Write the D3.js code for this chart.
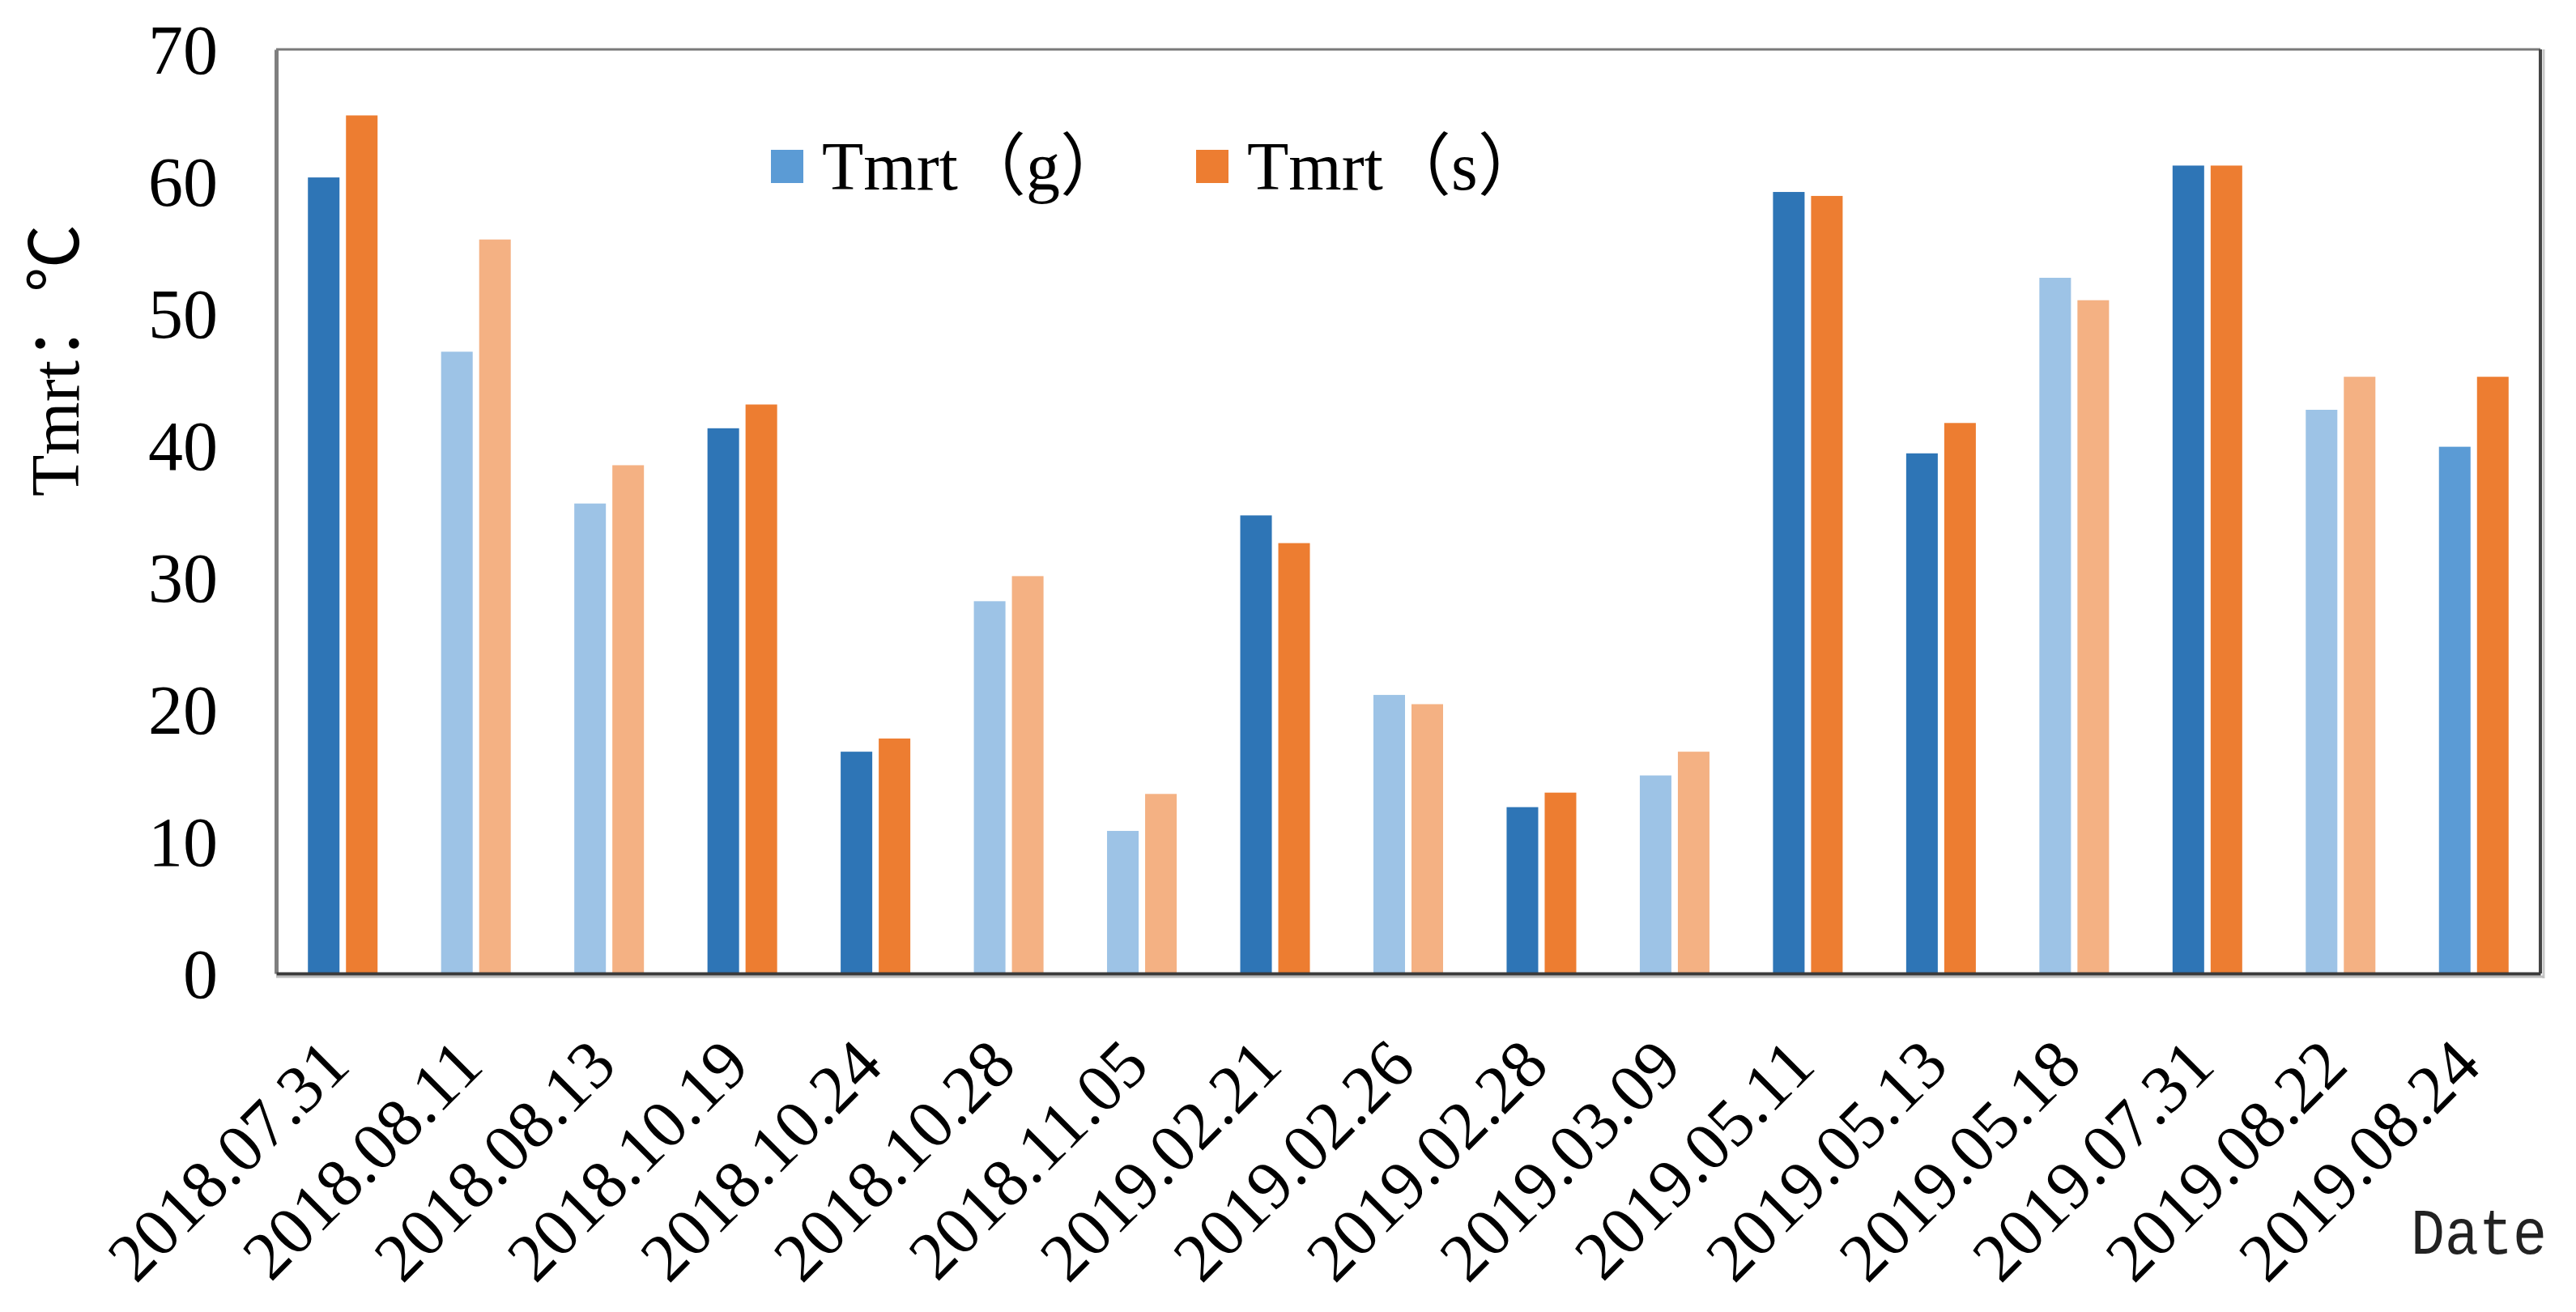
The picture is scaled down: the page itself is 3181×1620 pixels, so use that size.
<!DOCTYPE html>
<html>
<head>
<meta charset="utf-8">
<script src="https://cdn.jsdelivr.net/npm/d3@7"></script>
<style>
  html, body { margin: 0; padding: 0; background: #fff; }
  svg { display: block; }
</style>
</head>
<body>
<svg id="chart" width="3181" height="1620"></svg>
<script>
// ---- data ----
const categories = ["2018.07.31","2018.08.11","2018.08.13","2018.10.19","2018.10.24","2018.10.28","2018.11.05","2019.02.21","2019.02.26","2019.02.28","2019.03.09","2019.05.11","2019.05.13","2019.05.18","2019.07.31","2019.08.22","2019.08.24"];
const tmrtG = [60.3, 47.1, 35.6, 41.3, 16.8, 28.2, 10.8, 34.7, 21.1, 12.6, 15.0, 59.2, 39.4, 52.7, 61.2, 42.7, 39.9];
const tmrtS = [65.0, 55.6, 38.5, 43.1, 17.8, 30.1, 13.6, 32.6, 20.4, 13.7, 16.8, 58.9, 41.7, 51.0, 61.2, 45.2, 45.2];
const dayType = ["A","B","B","A","A","B","B","A","B","A","B","A","A","B","A","B","C"];
const seriesNames = ["Tmrt（g）", "Tmrt（s）"];
const yTicks = [0, 10, 20, 30, 40, 50, 60, 70];

// ---- layout ----
const svg = d3.select("#chart");
const mLeft = 341, mRight = 3137, mTop = 61, mBottom = 1202;

const x0 = d3.scaleBand().domain(categories).range([mLeft, mRight]).paddingInner(0.477).paddingOuter(0.2385);
const x1 = d3.scaleBand().domain(["g", "s"]).range([0, x0.bandwidth()]).paddingInner(0.17);
const y = d3.scaleLinear().domain([0, 70]).range([mBottom, mTop]);

const gColor = d3.scaleOrdinal().domain(["A","B","C"]).range(["#2E75B6", "#9DC3E6", "#5B9BD5"]);
const sColor = d3.scaleOrdinal().domain(["A","B","C"]).range(["#ED7D31", "#F4B183", "#ED7D31"]);

const rows = categories.map((c, i) => ({ c, g: tmrtG[i], s: tmrtS[i], t: dayType[i] }));

// bars
const groups = svg.append("g").selectAll("g").data(rows).join("g")
  .attr("transform", d => `translate(${x0(d.c)},0)`);
groups.append("rect")
  .attr("x", x1("g")).attr("width", x1.bandwidth())
  .attr("y", d => y(d.g)).attr("height", d => y(0) - y(d.g))
  .attr("fill", d => gColor(d.t));
groups.append("rect")
  .attr("x", x1("s")).attr("width", x1.bandwidth())
  .attr("y", d => y(d.s)).attr("height", d => y(0) - y(d.s))
  .attr("fill", d => sColor(d.t));

// frame
svg.append("line").attr("x1", mLeft).attr("x2", mRight).attr("y1", mTop).attr("y2", mTop)
  .attr("stroke", "#7a7a7a").attr("stroke-width", 3);
svg.append("line").attr("x1", mRight + 4).attr("x2", mRight + 4).attr("y1", mTop).attr("y2", mBottom + 6)
  .attr("stroke", "#c8c8c8").attr("stroke-width", 3);
svg.append("line").attr("x1", mRight).attr("x2", mRight).attr("y1", mTop).attr("y2", mBottom)
  .attr("stroke", "#454545").attr("stroke-width", 4);
svg.append("line").attr("x1", mLeft).attr("x2", mRight + 4).attr("y1", mBottom + 4).attr("y2", mBottom + 4)
  .attr("stroke", "#bdbdbd").attr("stroke-width", 3);

// y axis
const yAxis = d3.axisLeft(y).tickValues(yTicks).tickSize(0).tickPadding(72).tickFormat(d3.format("d"));
const yg = svg.append("g").attr("transform", `translate(${mLeft},0)`).call(yAxis);
yg.select(".domain").attr("stroke", "#7f7f7f").attr("stroke-width", 5);
yg.selectAll("text").attr("font-family", "'Liberation Serif', 'Times New Roman', serif")
  .attr("font-size", 86).attr("fill", "#000").attr("dy", "0.34em");

// x axis
const xAxis = d3.axisBottom(x0).tickSize(0).tickPadding(0);
const xg = svg.append("g").attr("transform", `translate(0,${mBottom})`).call(xAxis);
xg.select(".domain").attr("stroke", "#3a3a3a").attr("stroke-width", 4);
xg.selectAll(".tick text")
  .attr("font-family", "'Liberation Serif', 'Times New Roman', serif")
  .attr("font-size", 84).attr("fill", "#000")
  .attr("text-anchor", "end")
  .attr("dy", 0).attr("y", 0)
  .attr("transform", "translate(12,117) rotate(-45)");

// y title
svg.append("text")
  .attr("transform", "translate(97,445) rotate(-90)")
  .attr("text-anchor", "middle")
  .attr("font-family", "'Liberation Serif', 'Times New Roman', 'Noto Sans CJK SC', serif")
  .attr("font-size", 84).attr("fill", "#000")
  .text("Tmrt：℃");

// x title
svg.append("text")
  .attr("x", 2977).attr("y", 1548)
  .attr("font-family", "'Liberation Mono', monospace")
  .attr("font-size", 80).attr("fill", "#222")
  .attr("textLength", 168).attr("lengthAdjust", "spacingAndGlyphs")
  .text("Date");

// legend
const legendX = [952, 1477];
const legendColors = ["#5B9BD5", "#ED7D31"];
const lg = svg.append("g").selectAll("g").data(seriesNames).join("g")
  .attr("transform", (d, i) => `translate(${legendX[i]},0)`);
lg.append("rect").attr("x", 0).attr("y", 185).attr("width", 40).attr("height", 41)
  .attr("fill", (d, i) => legendColors[i]);
lg.append("text").attr("x", 63).attr("y", 234)
  .attr("font-family", "'Liberation Serif', 'Times New Roman', 'Noto Sans CJK SC', serif")
  .attr("font-size", 84).attr("fill", "#000")
  .text(d => d);
</script>
</body>
</html>
